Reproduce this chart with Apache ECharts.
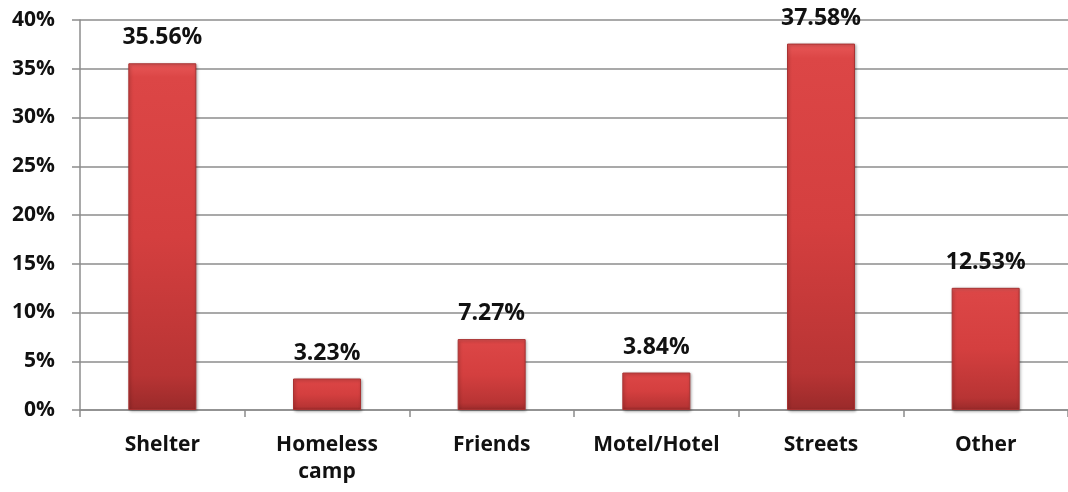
<!DOCTYPE html>
<html><head><meta charset="utf-8">
<script src="https://cdn.jsdelivr.net/npm/echarts@6/dist/echarts.min.js"></script>
<style>html,body{margin:0;padding:0;background:#fff}#c{width:1068px;height:492px}</style>
</head><body><div id="c"></div>
<script>
const categories = ["Shelter", "Homeless\ncamp", "Friends", "Motel/Hotel", "Streets", "Other"];
const values = [35.56, 3.23, 7.27, 3.84, 37.58, 12.53];
const yTicks = [0, 5, 10, 15, 20, 25, 30, 35, 40];

const font = '"Open Sans", "Liberation Sans", sans-serif';
const chart = echarts.init(document.getElementById('c'), null, {renderer: 'canvas'});
chart.setOption({
  animation: false,
  grid: {left: 80, right: -8, top: 20, bottom: 82, containLabel: false},
  xAxis: {
    type: 'category', data: categories,
    axisLine: {lineStyle: {color: '#8c8c8c', width: 1.5}},
    axisTick: {show: true, length: 7, lineStyle: {color: '#8c8c8c', width: 1.5}},
    axisLabel: {color: '#111', fontFamily: font, fontWeight: 'bold', fontSize: 21, lineHeight: 27, margin: 22}
  },
  yAxis: {
    type: 'value', min: yTicks[0], max: yTicks[yTicks.length - 1], interval: 5,
    axisLine: {show: true, lineStyle: {color: '#8c8c8c', width: 1.5}},
    axisTick: {show: true, length: 8, lineStyle: {color: '#8c8c8c', width: 1.5}},
    splitLine: {lineStyle: {color: '#8c8c8c', width: 1.5}},
    axisLabel: {color: '#111', fontFamily: font, fontWeight: 'bold', fontSize: 21, margin: 25,
      formatter: v => v + '%'}
  },
  series: [{
    type: 'bar', data: values, barWidth: 68,
    itemStyle: {
      color: new echarts.graphic.LinearGradient(0, 0, 0, 1, [
        {offset: 0, color: '#e85858'},
        {offset: 0.04, color: '#dc4646'},
        {offset: 0.5, color: '#d43f3f'},
        {offset: 0.9, color: '#b83434'},
        {offset: 1, color: '#9a2a2a'}
      ]),
      borderColor: '#a83232', borderWidth: 1,
      shadowColor: 'rgba(0,0,0,0.35)', shadowBlur: 3, shadowOffsetX: 1, shadowOffsetY: 1
    },
    label: {show: true, position: 'top', distance: 14, color: '#111', fontFamily: font,
      fontWeight: 'bold', fontSize: 23, formatter: p => p.value.toFixed(2) + '%'}
  }]
});
</script></body></html>
